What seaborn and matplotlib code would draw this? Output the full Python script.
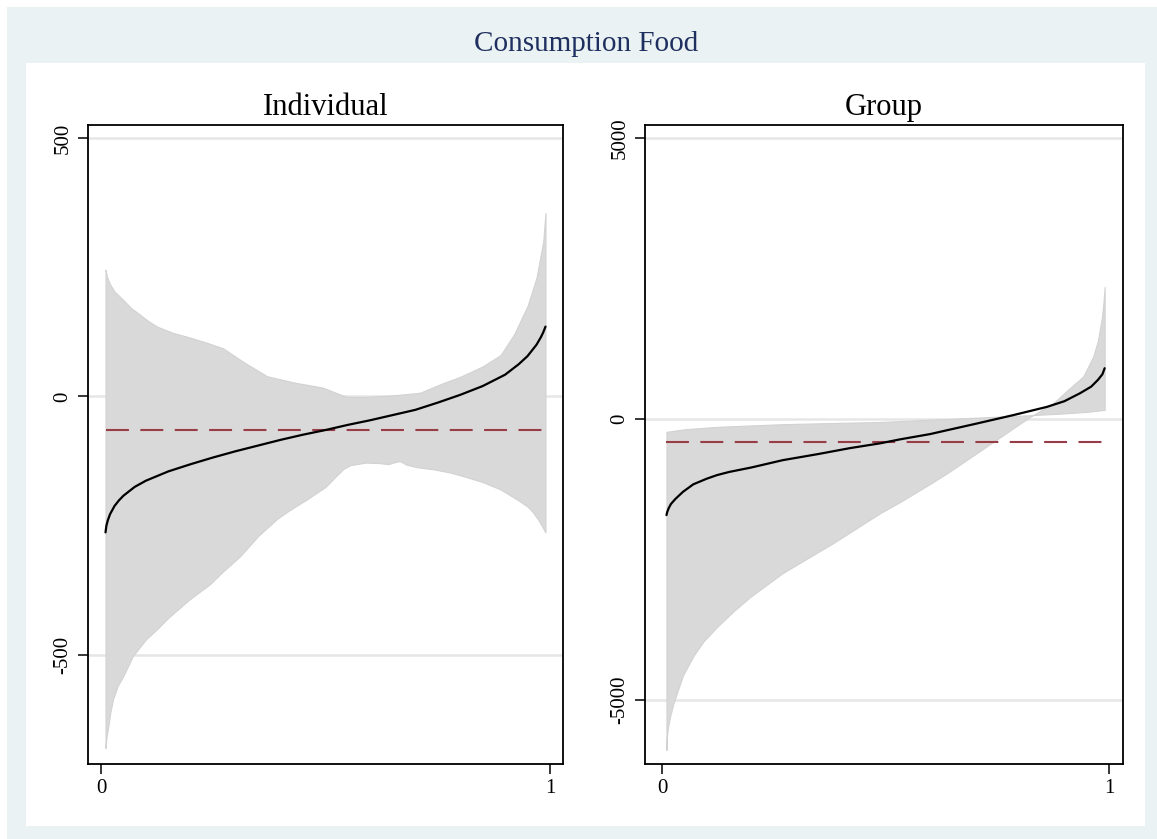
import numpy as np
import pandas as pd
import matplotlib
matplotlib.use("Agg")
import matplotlib.pyplot as plt
from matplotlib.patches import Rectangle
import seaborn as sns

# ---- Individual panel: quantile treatment effects ----
ind_line_q = [0.01, 0.012, 0.015, 0.02, 0.03, 0.04, 0.05, 0.075, 0.10, 0.15, 0.20,
              0.25, 0.30, 0.35, 0.40, 0.45, 0.50, 0.55, 0.60, 0.65, 0.70, 0.75,
              0.80, 0.85, 0.90, 0.93, 0.95, 0.97, 0.98, 0.985, 0.99]
ind_line_v = [-263, -250, -240, -228, -212, -201, -192, -175, -163, -145, -131,
              -118, -106, -95, -84, -74, -65, -55, -46, -36, -26, -12,
              3, 20, 42, 62, 78, 100, 115, 124, 135]

ind_hi_q = [0.01, 0.013, 0.02, 0.03, 0.049, 0.067, 0.087, 0.105, 0.125, 0.16,
            0.198, 0.235, 0.272, 0.32, 0.37, 0.43, 0.494, 0.532, 0.548, 0.592,
            0.65, 0.71, 0.76, 0.80, 0.85, 0.89, 0.92, 0.95, 0.97, 0.985, 0.99]
ind_hi_v = [245, 232, 217, 203, 187, 171, 158, 146, 135, 123,
            114, 104, 93, 65, 39, 27, 17, 4, -1, -1,
            2, 7, 25, 38, 58, 80, 120, 175, 230, 300, 355]

ind_lo_q = [0.01, 0.012, 0.016, 0.021, 0.027, 0.037, 0.049, 0.071, 0.10, 0.125,
            0.15, 0.198, 0.243, 0.27, 0.31, 0.35, 0.392, 0.42, 0.459, 0.50,
            0.517, 0.54, 0.555, 0.59, 0.62, 0.64, 0.655, 0.666, 0.68, 0.704,
            0.74, 0.777, 0.81, 0.851, 0.89, 0.926, 0.95, 0.962, 0.975, 0.99]
ind_lo_v = [-680, -660, -639, -610, -585, -560, -542, -502, -470, -450,
            -428, -392, -363, -340, -309, -270, -237, -220, -199, -175,
            -160, -140, -133, -128, -129, -131, -127, -125, -132, -137,
            -141, -147, -155, -166, -180, -199, -213, -224, -240, -263]

ind_mean = -65

# ---- Group panel ----
grp_line_q = [0.01, 0.012, 0.015, 0.02, 0.03, 0.047, 0.07, 0.10, 0.123, 0.15,
              0.20, 0.27, 0.35, 0.42, 0.488, 0.532, 0.60, 0.638, 0.70, 0.785,
              0.861, 0.90, 0.935, 0.96, 0.975, 0.985, 0.99]
grp_line_v = [-1708, -1645, -1585, -1510, -1420, -1293, -1160, -1060, -996, -940,
              -860, -730, -620, -516, -430, -360, -265, -196, -85, 71,
              219, 320, 462, 580, 700, 800, 907]

grp_a_q = [0.01, 0.05, 0.123, 0.27, 0.40, 0.488, 0.60, 0.711, 0.823, 0.897, 0.95, 0.99]
grp_a_v = [-226, -180, -137, -89, -65, -50, -10, 30, 70, 101, 130, 165]

grp_b_q = [0.01, 0.011, 0.013, 0.018, 0.025, 0.034, 0.047, 0.07, 0.092, 0.123,
           0.16, 0.197, 0.27, 0.383, 0.488, 0.532, 0.60, 0.638, 0.70, 0.741,
           0.823, 0.875, 0.913, 0.942, 0.964, 0.975, 0.984, 0.987, 0.99]
grp_b_v = [-5890, -5650, -5500, -5300, -5080, -4860, -4560, -4220, -3964, -3700,
           -3420, -3167, -2740, -2206, -1673, -1477, -1150, -961, -626, -404,
           41, 285, 560, 760, 1108, 1400, 1820, 2050, 2354]

grp_mean = -404

panel_titles = ["Individual", "Group"]
main_title = "Consumption Food"

# ---- style ----
sns.set_theme(style="white")
plt.rcParams["font.family"] = ["Liberation Serif", "DejaVu Serif"]

W, H = 1157, 839
fig = plt.figure(figsize=(W / 100, H / 100), dpi=100)
fig.patch.set_facecolor("white")

# outer graph region and inner plot region
fig.patches.append(Rectangle((7 / W, 0), 1 - 7 / W, 1 - 7 / H, transform=fig.transFigure,
                             facecolor="#EAF2F3", edgecolor="none", zorder=-10))
fig.patches.append(Rectangle((26 / W, 1 - 826 / H), (1145 - 26) / W, (826 - 63) / H,
                             transform=fig.transFigure, facecolor="white",
                             edgecolor="none", zorder=-9))

fig.text(586 / W, 1 - 44 / H, main_title, ha="center", va="center",
         fontsize=21, color="#1F2F5F")

band_color = "#D9D9D9"
mean_color = "#983C48"


def draw_panel(ax, title, line_q, line_v, edge1_q, edge1_v, edge2_q, edge2_v,
               mean_val, yticks, ylim, xlim):
    # band between the two confidence bounds, sampled on the union of their knots
    grid = np.unique(np.concatenate([edge1_q, edge2_q]))
    e1 = np.interp(grid, edge1_q, edge1_v)
    e2 = np.interp(grid, edge2_q, edge2_v)
    ax.fill_between(grid, e1, e2, color=band_color, linewidth=0.8,
                    edgecolor="#D2D2D2", zorder=2)

    df_line = pd.DataFrame({"q": line_q, "v": line_v})
    sns.lineplot(data=df_line, x="q", y="v", ax=ax, color="black",
                 linewidth=1.6, zorder=4, sort=True, estimator=None)

    mq = [line_q[0], line_q[-1]]
    df_mean = pd.DataFrame({"q": mq, "v": [mean_val, mean_val]})
    sns.lineplot(data=df_mean, x="q", y="v", ax=ax, color=mean_color,
                 linewidth=1.5, zorder=3, estimator=None)
    ax.lines[-1].set_dashes([11, 5.5])

    ax.set_xlim(*xlim)
    ax.set_ylim(*ylim)
    ax.set_xticks([0, 1])
    ax.set_xticklabels(["0", "1"])
    ax.set_yticks(yticks)
    ax.set_yticklabels([str(t) for t in yticks], rotation=90, va="center")
    ax.set_xlabel("")
    ax.set_ylabel("")
    ax.set_axisbelow(True)
    ax.yaxis.grid(True, color="#E6E6E6", linewidth=1.8)
    ax.xaxis.grid(False)
    for s in ax.spines.values():
        s.set_visible(True)
        s.set_color("black")
        s.set_linewidth(1.3)
    ax.tick_params(axis="both", which="major", direction="out", length=7,
                   width=1.1, color="black", labelsize=15, labelcolor="black",
                   bottom=True, left=True, pad=4)
    ax.set_title(title, fontsize=22, color="black", pad=7)
    ax.set_facecolor("white")


ax1 = fig.add_axes([88 / W, 1 - 764 / H, (563 - 88) / W, (764 - 125) / H])
ax2 = fig.add_axes([645 / W, 1 - 764 / H, (1123 - 645) / W, (764 - 125) / H])

draw_panel(ax1, panel_titles[0], ind_line_q, ind_line_v, ind_hi_q, ind_hi_v,
           ind_lo_q, ind_lo_v, ind_mean, [-500, 0, 500], (-711, 525), (-0.029, 1.029))
draw_panel(ax2, panel_titles[1], grp_line_q, grp_line_v, grp_a_q, grp_a_v,
           grp_b_q, grp_b_v, grp_mean, [-5000, 0, 5000], (-6139, 5237), (-0.038, 1.031))

fig.savefig("out.png", dpi=100, facecolor=fig.get_facecolor())
